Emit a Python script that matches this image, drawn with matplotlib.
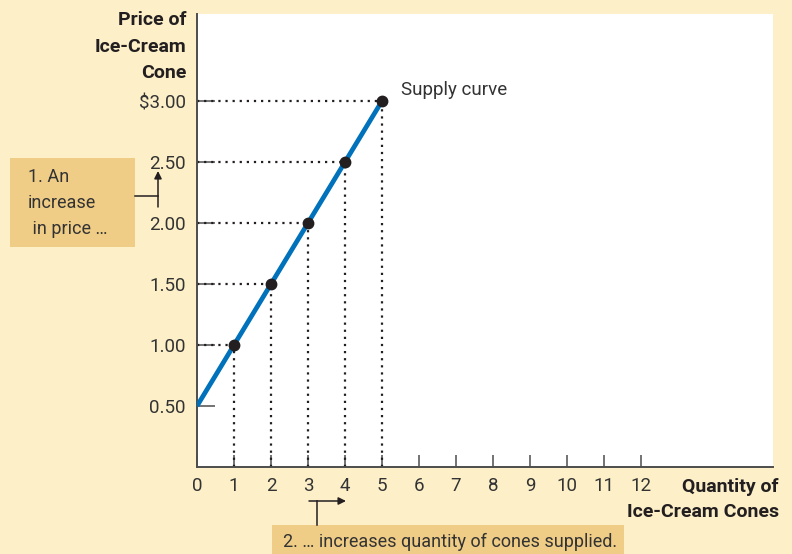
import matplotlib
matplotlib.use('Agg')
import matplotlib.pyplot as plt
from matplotlib.patches import Rectangle, FancyArrowPatch
from matplotlib.lines import Line2D

# data
quantity = [1, 2, 3, 4, 5]
price = [1.00, 1.50, 2.00, 2.50, 3.00]
curve_q = [0, 5]
curve_p = [0.50, 3.00]
x_ticks = list(range(0, 13))
y_ticks = [0.50, 1.00, 1.50, 2.00, 2.50, 3.00]
y_ticklabels = ['0.50', '1.00', '1.50', '2.00', '2.50', '$3.00']

BG = '#FDF0C9'
BOX = '#EFCD86'
INK = '#333333'
BLUE = '#0071BB'
FONT = ['Roboto', 'Liberation Sans', 'DejaVu Sans']

plt.rcParams['font.family'] = FONT

W, H = 792, 554
fig = plt.figure(figsize=(W / 100, H / 100), dpi=100, facecolor=BG)

def fx(px):
    return px / W

def fy(py):
    return 1 - py / H

ax = fig.add_axes([fx(197), fy(467), fx(773) - fx(197), fy(14) - fy(467)])
ax.set_facecolor('white')
ax.set_xlim(0, 576 / 37)
ax.set_ylim(0, 453 / 122)
for s in ['top', 'right']:
    ax.spines[s].set_visible(False)
for s in ['left', 'bottom']:
    ax.spines[s].set_color('#4d4d4d')
    ax.spines[s].set_linewidth(1.4)

ax.set_xticks(x_ticks)
ax.set_xticklabels([str(v) for v in x_ticks])
ax.set_yticks(y_ticks)
ax.set_yticklabels(y_ticklabels)
ax.tick_params(axis='x', direction='in', length=8.5, width=1.1, color='#4d4d4d',
               labelsize=13.5, labelcolor=INK, pad=7)
ax.tick_params(axis='y', direction='in', length=13, width=1.1, color='#4d4d4d',
               labelsize=13.5, labelcolor=INK, pad=8)

# dotted guide lines
for q, p in zip(quantity, price):
    ax.plot([0, q], [p, p], linestyle=(0, (1, 2.2)), color='#231F20', lw=1.6, zorder=2)
    ax.plot([q, q], [0, p], linestyle=(0, (1, 2.2)), color='#231F20', lw=1.6, zorder=2)

ax.plot(curve_q, curve_p, color=BLUE, lw=3.4, solid_capstyle='butt', zorder=3)
ax.plot(quantity, price, 'o', color='#231F20', ms=7.5, zorder=4)
ax.text(5.52, 3.09, 'Supply curve', fontsize=13.5, color=INK, va='center', ha='left')

# axis titles, one text per line
for txt, py in [('Price of', 20), ('Ice-Cream', 47), ('Cone', 73)]:
    fig.text(fx(186), fy(py), txt, ha='right', va='center',
             fontsize=14, fontweight='bold', color='#231F20')
for txt, py in [('Quantity of', 487), ('Ice-Cream Cones', 512)]:
    fig.text(fx(779), fy(py), txt, ha='right', va='center',
             fontsize=14, fontweight='bold', color='#231F20')

# annotation boxes
fig.patches.append(Rectangle((fx(10), fy(247)), fx(135) - fx(10), fy(158) - fy(247),
                             transform=fig.transFigure, facecolor=BOX, edgecolor='none'))
for txt, py in [('1. An', 177), ('increase', 203), (' in price …', 229)]:
    fig.text(fx(28), fy(py), txt, ha='left', va='center', fontsize=13, color=INK)
fig.lines.append(Line2D([fx(135), fx(158)], [fy(196), fy(196)], transform=fig.transFigure,
                        color='#231F20', lw=1.1))
fig.patches.append(FancyArrowPatch((fx(158), fy(207)), (fx(158), fy(171)),
                                   transform=fig.transFigure, arrowstyle='-|>',
                                   mutation_scale=11, color='#231F20', lw=1.1,
                                   shrinkA=0, shrinkB=0))

fig.patches.append(Rectangle((fx(272), fy(554)), fx(624) - fx(272), fy(525) - fy(554),
                             transform=fig.transFigure, facecolor=BOX, edgecolor='none'))
fig.text(fx(283), fy(542), '2. … increases quantity of cones supplied.', ha='left',
         va='center', fontsize=13, color=INK)
fig.lines.append(Line2D([fx(317), fx(317)], [fy(525), fy(501)], transform=fig.transFigure,
                        color='#231F20', lw=1.1))
fig.patches.append(FancyArrowPatch((fx(309), fy(501)), (fx(346), fy(501)),
                                   transform=fig.transFigure, arrowstyle='-|>',
                                   mutation_scale=11, color='#231F20', lw=1.1,
                                   shrinkA=0, shrinkB=0))

fig.savefig('out.png', dpi=100, facecolor=BG)
